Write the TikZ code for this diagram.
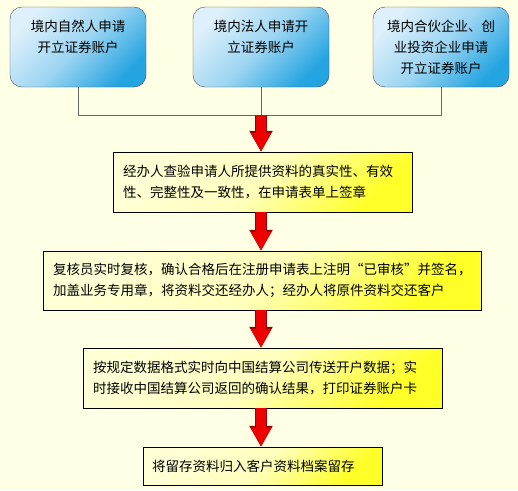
\documentclass[tikz,border=0pt]{standalone}
\usepackage{fontspec}
\setmainfont{Noto Sans CJK SC}
\usepackage{tikz}
\usetikzlibrary{arrows.meta, positioning}

\definecolor{paper}{RGB}{255,255,230}
\definecolor{skylight}{RGB}{222,240,251}
\definecolor{skydark}{RGB}{36,164,225}
\definecolor{lemonlight}{RGB}{255,255,214}
\definecolor{lemondark}{RGB}{255,255,40}
\definecolor{arrowred}{RGB}{236,0,0}
\definecolor{arrowrim}{RGB}{150,0,0}

\begin{document}
\begin{tikzpicture}[
        x=1pt, y=-1pt,
        every node/.style={font=\fontsize{13.5}{21}\selectfont, inner sep=0pt},
        applicant/.style={draw=black!70, rounded corners=12pt, minimum width=136pt, minimum height=80pt,
            align=center, top color=skylight, bottom color=skydark, middle color=skylight!65!skydark,
            shading angle=45},
        stepbox/.style={draw=black, inner xsep=10pt, align=left, top color=lemonlight,
            bottom color=lemondark, middle color=lemonlight!85!lemondark, shading angle=45},
        feed/.style={draw=black!60, line width=0.8pt},
        pass/.style={line width=10pt, arrowred, -{Triangle[width=19pt, length=19pt]},
            preaction={draw=arrowrim, line width=11.5pt, -{Triangle[width=22pt, length=21pt]}}}
    ]

    % background and page size
    \fill[paper] (0,0) rectangle (518,490);
    \useasboundingbox (0,0) rectangle (518,490);

    % applicants
    \node[applicant] (natural) at (78,47) {境内自然人申请\\开立证券账户\\\phantom{开}};
    \node[applicant] (legal) at (261,47) {境内法人申请开\\立证券账户\\\phantom{开}};
    \node[applicant] (venture) at (441,47) {境内合伙企业、创\\业投资企业申请\\开立证券账户};

    \coordinate (join) at (261,115);
    \draw[feed] (natural.south) |- (join);
    \draw[feed] (venture.south) |- (join);
    \draw[feed] (legal.south) -- (join);

    % processing steps
    \node[stepbox, text width=279pt, minimum height=60pt] (check) at (262.5,182)
        {经办人查验申请人所提供资料的真实性、有效\\性、完整性及一致性，在申请表单上签章};
    \node[stepbox, text width=418pt, minimum height=59pt] (review) at (262,280.5)
        {复核员实时复核，确认合格后在注册申请表上注明“已审核”并签名，\\加盖业务专用章，将资料交还经办人；经办人将原件资料交还客户};
    \node[stepbox, text width=339pt, minimum height=60pt] (transmit) at (262.5,378)
        {按规定数据格式实时向中国结算公司传送开户数据；实\\时接收中国结算公司返回的确认结果，打印证券账户卡};
    \node[stepbox, inner xsep=9pt, text width=221pt, minimum height=38pt] (archive) at (262.5,466)
        {将留存资料归入客户资料档案留存};

    \draw[pass] (join) -- (check.north -| join);
    \draw[pass] (check.south -| join) -- (review.north -| join);
    \draw[pass] (review.south -| join) -- (transmit.north -| join);
    \draw[pass] (transmit.south -| join) -- (archive.north -| join);

\end{tikzpicture}
\end{document}
